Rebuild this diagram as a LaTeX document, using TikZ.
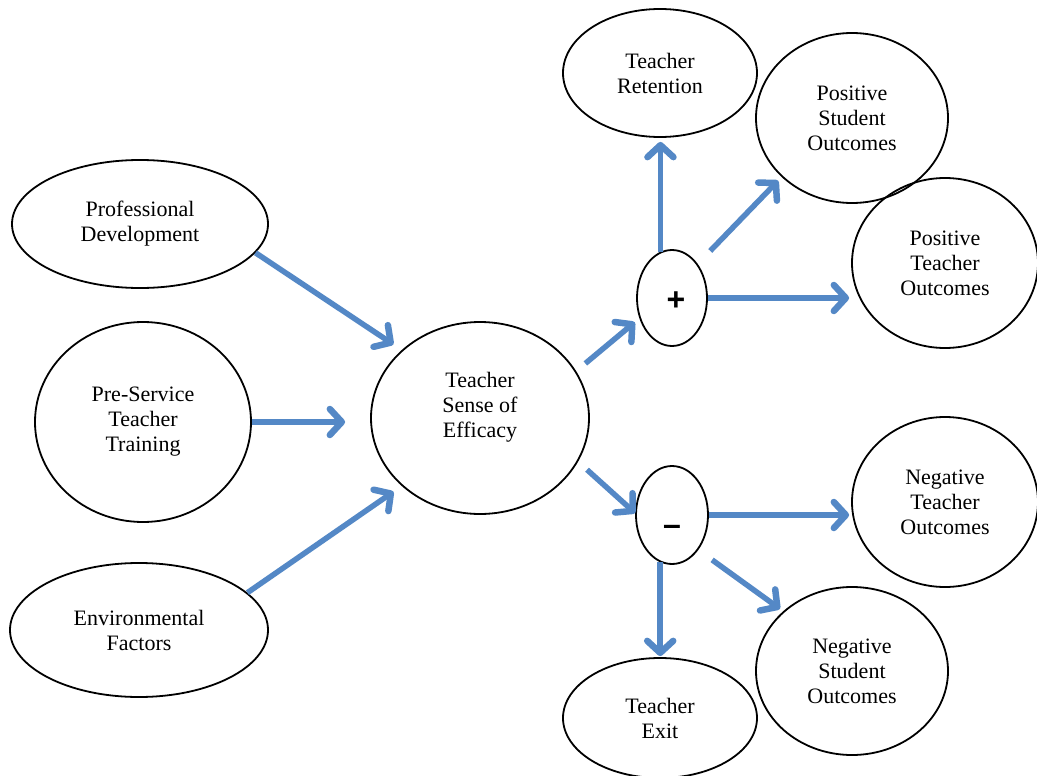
\documentclass[tikz,border=0pt]{standalone}
\usepackage{fontspec}
\setmainfont{Liberation Serif}
\newfontfamily\signfont{Liberation Sans}
\usetikzlibrary{shapes.geometric,arrows.meta}
\definecolor{arrowblue}{RGB}{84,136,198}
\begin{document}
\begin{tikzpicture}[x=1pt,y=-1pt,
  ell/.style={ellipse,draw=black,line width=1.8pt,inner sep=0pt,align=center,font=\fontsize{22}{25}\selectfont},
  lbl/.style={align=center,font=\fontsize{22}{25}\selectfont},
  sign/.style={font=\signfont\bfseries\fontsize{32}{32}\selectfont},
  arr/.style={draw=arrowblue,line width=5.5pt,-{Straight Barb[length=12pt,width=26pt,line width=6.5pt,round]}}]
\useasboundingbox (0,0) rectangle (1037,776);
\fill[white] (0,0) rectangle (1037,776);
% nodes
\node[ell,minimum width=256pt,minimum height=128pt] (pd) at (140,224) {Professional\\Development};
\node[ell,minimum width=216pt,minimum height=200pt] (pst) at (143,422) {Pre-Service\\Teacher\\Training};
\node[ell,minimum width=258pt,minimum height=134pt] (env) at (139,630) {Environmental\\Factors};
\node[ell,minimum width=218pt,minimum height=192pt,label={[lbl,yshift=11pt]center:Teacher\\Sense of\\Efficacy}] (tse) at (480,418) {};
\node[ell,minimum width=70pt,minimum height=96pt,label={[sign,xshift=4pt,yshift=-3pt]center:+}] (plus) at (672,298) {};
\node[ell,minimum width=72pt,minimum height=98pt,label={[sign,yshift=-15pt]center:–}] (minus) at (672,515) {};
\node[ell,minimum width=194pt,minimum height=128pt] (ret) at (660,73) {Teacher\\Retention};
\node[ell,minimum width=192pt,minimum height=170pt] (pso) at (852,118) {Positive\\Student\\Outcomes};
\node[ell,minimum width=186pt,minimum height=170pt] (pto) at (945,263) {Positive\\Teacher\\Outcomes};
\node[ell,minimum width=186pt,minimum height=170pt] (nto) at (945,502) {Negative\\Teacher\\Outcomes};
\node[ell,minimum width=192pt,minimum height=168pt] (nso) at (852,671) {Negative\\Student\\Outcomes};
\node[ell,minimum width=194pt,minimum height=120pt] (exit) at (660,718) {Teacher\\Exit};
% connectors
\draw[arr,shorten >=10pt] (pd.-14) -- (tse.139);
\draw[arr,shorten >=25pt] (pst.east) -- (pst.east -| tse.west);
\draw[arr,shorten >=10pt] (env.19) -- (tse.221);
\draw[arr,shorten <=12pt,shorten >=6pt] (tse.26) -- (plus.212);
\draw[arr,shorten <=12pt] (tse.-24) -- (minus.177);
\draw[arr,shorten >=4pt] (plus.104) -- (plus.104 |- ret.south);
\draw[arr,shorten <=18pt,shorten >=5pt] (plus.53) -- (pso.220);
\draw[arr,shorten >=2pt] (plus.east) -- (plus.east -| pto.west);
\draw[arr,shorten >=2pt] (minus.east) -- (minus.east -| nto.west);
\draw[arr,shorten <=17pt,shorten >=4pt] (minus.-53) -- (nso.139);
\draw[arr,shorten >=1pt] (minus.256) -- (minus.256 |- exit.north);
\end{tikzpicture}
\end{document}
